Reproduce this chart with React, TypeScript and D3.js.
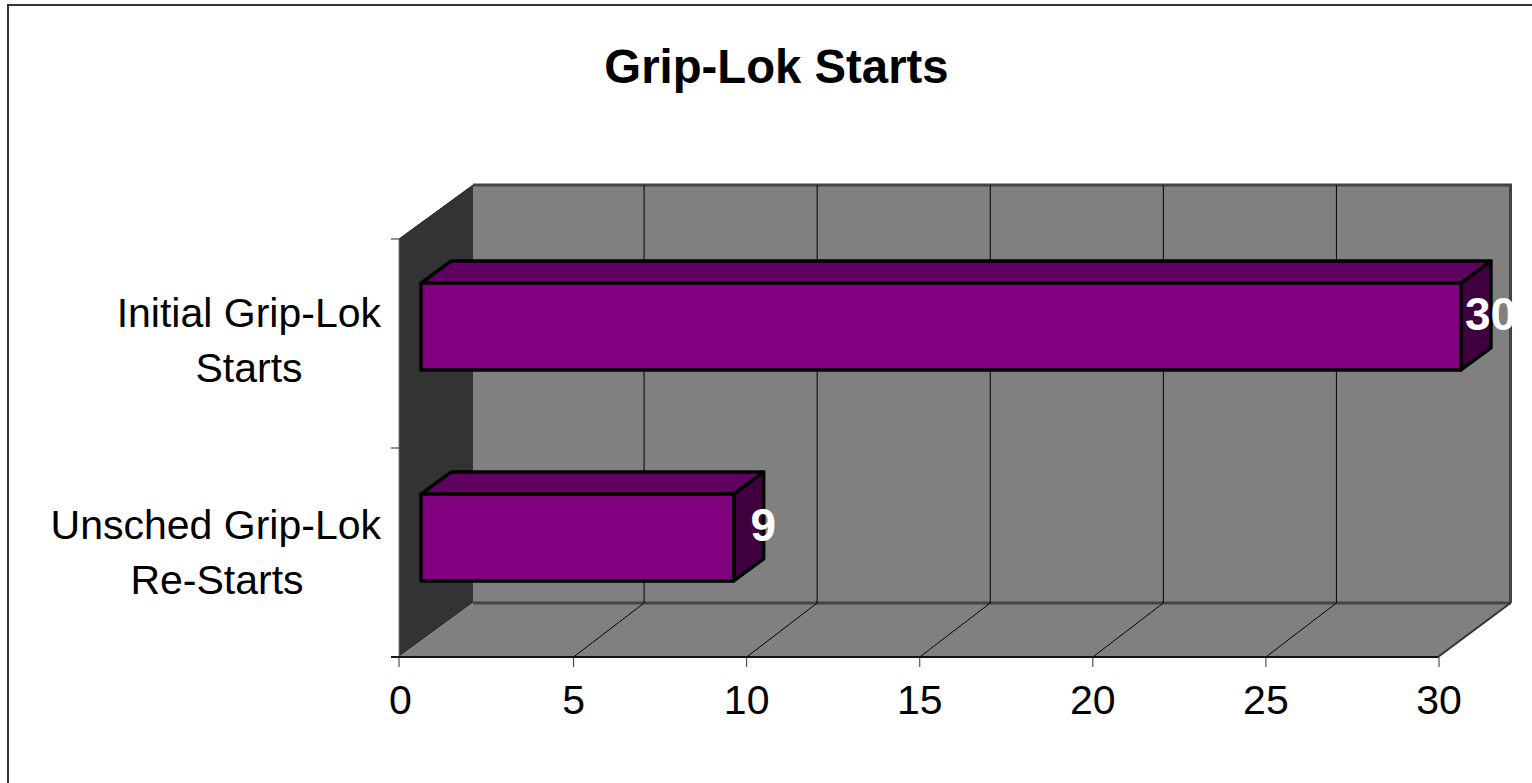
import React from "react";
import * as d3 from "d3";

const chartTitle = "Grip-Lok Starts";
const categories = ["Initial Grip-Lok Starts", "Unsched Grip-Lok Re-Starts"];
const categoryLines = [["Initial Grip-Lok", "Starts"], ["Unsched Grip-Lok", "Re-Starts"]];
const values = [30, 9];
const xTicks = [0, 5, 10, 15, 20, 25, 30];

const FONT = "'Liberation Sans', Arial, sans-serif";
const wallDx = 74, wallDy = -54;
const gridDx = 70.5;
const barOffsetDx = 22, barOffsetDy = -16.5;
const barDepthDx = 30, barDepthDy = -22;

const x = d3.scaleLinear().domain([0, 30]).range([399, 1438]);
const xTick = d3.scaleLinear().domain([0, 30]).range([400.5, 1439]);
const xBar = d3.scaleLinear().domain([0, 30]).range([421, 1461]);
const yOuter = d3.scaleBand<string>().domain(categories).range([239, 657]);
const y = d3.scaleBand<string>().domain(categories).range([237.5, 659.5]).paddingInner(0.588).paddingOuter(0.294);

const pts = (p: number[][]) => p.map((q) => q.join(",")).join(" ");

export default function App() {
  const x0 = x(0), x1 = x(30), top = 239, bottom = 657;
  return (
    <svg width={1532} height={783} style={{ position: "absolute", left: 0, top: 0, display: "block" }}>
      <rect width={1532} height={783} fill="#fff" />
      <rect x={8} y={5} width={1560} height={800} fill="#fff" stroke="#333" strokeWidth={2} />
      <text x={776.5} y={83} textAnchor="middle" fontFamily={FONT} fontWeight="bold" fontSize={47.3} fill="#000">{chartTitle}</text>

      {/* side wall */}
      <polygon points={pts([[x0, top], [x0 + wallDx, top + wallDy], [x0 + wallDx, bottom + wallDy], [x0, bottom]])} fill="#333333" />
      {/* back wall */}
      <rect x={x0 + wallDx} y={top + wallDy} width={x1 - x0} height={bottom - top} fill="#808080" />
      <path d={`M${x0 + wallDx},${top + wallDy}H${x1 + wallDx - 1.5}V${bottom + wallDy}`} fill="none" stroke="#444" strokeWidth={3} />
      {/* floor */}
      <polygon points={pts([[x0, bottom], [x0 + wallDx, bottom + wallDy], [x1 + wallDx - 1.5, bottom + wallDy], [x1, bottom]])} fill="#808080" />
      <line x1={x0 + wallDx} x2={x1 + wallDx - 1} y1={bottom + wallDy} y2={bottom + wallDy} stroke="#444" strokeWidth={3} />
      <line x1={x1} x2={x1 + wallDx - 1.5} y1={bottom} y2={bottom + wallDy} stroke="#333" strokeWidth={2} />
      <line x1={x0} x2={x0} y1={top} y2={bottom} stroke="#777" strokeWidth={1} />
      <line x1={x0} x2={x0 + wallDx} y1={top} y2={top + wallDy} stroke="#222" strokeWidth={1} />

      {/* gridlines */}
      {xTicks.slice(1, -1).map((t) => (
        <g key={t} stroke="#000" strokeWidth={1}>
          <line x1={xTick(t)} y1={bottom} x2={xTick(t) + gridDx} y2={bottom + wallDy} />
          <line x1={xTick(t) + gridDx} y1={bottom + wallDy} x2={xTick(t) + gridDx} y2={top + wallDy} />
        </g>
      ))}

      {/* axes */}
      <line x1={x0 - 8} x2={x1} y1={bottom} y2={bottom} stroke="#111" strokeWidth={2} />
      {xTicks.map((t) => (
        <g key={t}>
          <line x1={t === 0 ? x0 : xTick(t)} x2={t === 0 ? x0 : xTick(t)} y1={bottom} y2={bottom + 10} stroke="#333" strokeWidth={1} />
          <text x={xTick(t)} y={714} textAnchor="middle" fontFamily={FONT} fontSize={41} fill="#000">{t}</text>
        </g>
      ))}
      {[...categories, null].map((c, i) => {
        const yy = c ? (yOuter(c) as number) : bottom;
        return <line key={i} x1={x0 - 8} x2={x0} y1={yy} y2={yy} stroke="#222" strokeWidth={1} />;
      })}
      {categories.map((c, i) => {
        const mid = (yOuter(c) as number) + yOuter.bandwidth() / 2;
        return categoryLines[i].map((l, j) => (
          <text key={l} x={i === 0 && j === 1 ? 249 : i === 1 && j === 1 ? 217 : 381} y={mid - 16.5 + i * 3 + j * 55} textAnchor={j === 0 ? "end" : "middle"} fontFamily={FONT} fontSize={41} fill="#000">{l}</text>
        ));
      })}

      {/* bars */}
      {categories.map((c, i) => {
        const bx0 = xBar(0);
        const bx1 = xBar(values[i]) + 1 - values[i] / 30;
        const by0 = (y(c) as number) + barOffsetDy;
        const by1 = by0 + y.bandwidth();
        return (
          <g key={c} stroke="#000" strokeWidth={3.4} strokeLinejoin="round">
            <polygon points={pts([[bx0, by0], [bx0 + barDepthDx, by0 + barDepthDy], [bx1 + barDepthDx, by0 + barDepthDy], [bx1, by0]])} fill="#600060" />
            <polygon points={pts([[bx1, by0], [bx1 + barDepthDx, by0 + barDepthDy], [bx1 + barDepthDx, by1 + barDepthDy], [bx1, by1]])} fill="#400040" />
            <rect x={bx0} y={by0} width={bx1 - bx0} height={by1 - by0} fill="#800080" />
            <text x={bx1 + 29.5} y={(by0 + by1) / 2 + 3.5} textAnchor="middle" fontFamily={FONT} fontWeight="bold" fontSize={46} fill="#fff" stroke="none">{values[i]}</text>
          </g>
        );
      })}
    </svg>
  );
}
